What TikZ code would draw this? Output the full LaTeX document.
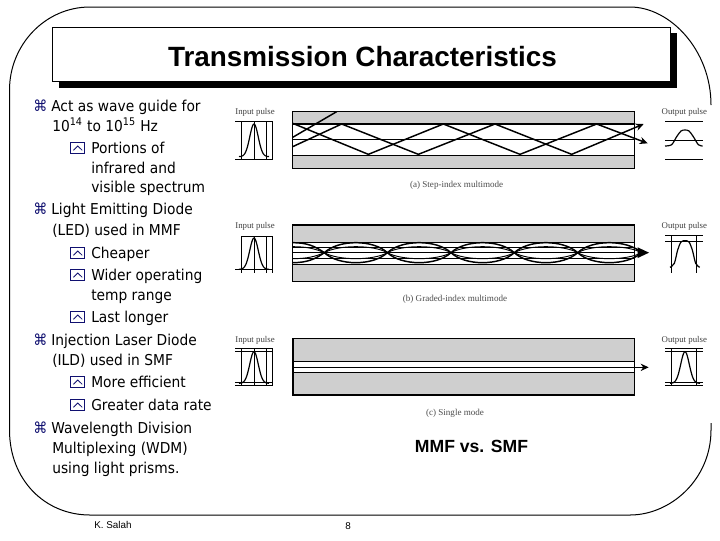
\documentclass[tikz,border=0pt]{standalone}
\usepackage{fontspec}
\setmainfont{DejaVu Sans}[FakeStretch=0.92]
\newfontfamily\titlefont{Liberation Sans}
\newfontfamily\capfont{Liberation Serif}
\usetikzlibrary{arrows.meta}
\definecolor{bulletblue}{HTML}{101070}
\definecolor{clad}{HTML}{CFCFCF}
\tikzset{
  x=0.75pt,y=-0.75pt,
  frameline/.style={draw=black,line width=0.75pt},
  lone/.style={anchor=base west,inner sep=0pt,font=\fontsize{11.25pt}{12pt}\selectfont},
  ltwo/.style={lone},
  kbul/.style={anchor=base west,inner sep=0pt,text=bulletblue,font=\fontsize{11.5pt}{12pt}\selectfont},
  ybul/.style={draw=bulletblue,line width=0.6pt},
  panel/.style={x=0.25pt,y=-0.25pt},
  plabel/.style={inner sep=0pt,text=black!75,font=\capfont\fontsize{6.6pt}{8pt}\selectfont},
  pcap/.style={inner sep=0pt,text=black!70,font=\capfont\fontsize{6.8pt}{8pt}\selectfont},
  fibre/.style={draw=black,line width=1.1pt},
  core/.style={fill=white,draw=none},
  thickl/.style={line width=1.2pt},
  thinl/.style={line width=0.7pt},
  grid/.style={line width=0.5pt},
  bell/.style={line width=0.9pt},
  rayline/.style={line width=1.1pt},
  raytip/.style={-{Stealth[length=6pt,width=5.5pt]}},
  footn/.style={inner sep=0pt,font=\titlefont\fontsize{7.4pt}{8pt}\selectfont}
}
\newcommand{\ybox}[2]{%
  \draw[ybul] (#1,#2-11) rectangle (#1+14,#2);
  \draw[ybul] (#1+2.7,#2-2.7) -- (#1+7,#2-7) -- (#1+11.5,#2-2.7);}
\newcommand{\gaussc}[4]{% centre, top, base, sigma (panel units)
  \draw[bell,smooth] plot[domain=-45:45,samples=41] ({#1+\x},{#3-(#3-#2)*exp(-(\x*\x)/(#4*#4))});}
\newcommand{\lenses}[2]{% control offset, width
  \draw[line width=#2] (203,{128-0.75*#1}) .. controls (245,{128-0.75*#1}) and (270,{128-0.5*#1}) .. (298,128)
    .. controls (340,{128+#1}) and (445,{128+#1}) .. (487,128)
    .. controls (530,{128-#1}) and (635,{128-#1}) .. (678,128)
    .. controls (720,{128+#1}) and (825,{128+#1}) .. (868,128)
    .. controls (910,{128-#1}) and (1015,{128-#1}) .. (1058,128)
    .. controls (1100,{128+#1}) and (1205,{128+#1}) .. (1250,128);}
\begin{document}
\begin{tikzpicture}
\useasboundingbox (0,0) rectangle (720,540);
% slide frame
\draw[frameline] (711,423) -- (711,430) .. controls (711,480) and (670,515) .. (630,515)
  -- (90,515) .. controls (45,515) and (9.5,480) .. (9.5,430)
  -- (9.5,90) .. controls (9.5,45) and (45,7) .. (90,7)
  -- (630,7) .. controls (670,7) and (711,50) .. (711,105);
% title
\fill (59,33) rectangle (677,88);
\node[draw=black,fill=white,line width=0.75pt,minimum width=463pt,minimum height=40.5pt,inner sep=0pt] (titlebox) at (361.5,54) {};
\node[inner sep=0pt,font=\titlefont\bfseries\fontsize{20.9pt}{24pt}\selectfont] (title) at (362.5,57) {Transmission Characteristics};
% bullets
\node[kbul] (k1) at (33,111.5) {⌘};
\node[kbul] (k2) at (33,214) {⌘};
\node[kbul] (k3) at (33,345) {⌘};
\node[kbul] (k4) at (33,433) {⌘};
\ybox{70.7}{153}\ybox{70.7}{258}\ybox{70.7}{280}\ybox{70.7}{322}\ybox{70.7}{387}\ybox{70.7}{410}
% text
\node[lone] (t1) at (51,111.5) {Act as wave guide for};
\node[lone] (t2) at (52,131) {10\textsuperscript{14} to 10\textsuperscript{15} Hz};
\node[ltwo] (t3) at (91,153) {Portions of};
\node[ltwo] (t4) at (91,173) {infrared and};
\node[ltwo] (t5) at (91,192) {visible spectrum};
\node[lone] (t6) at (51,214) {Light Emitting Diode};
\node[lone] (t7) at (52,235) {(LED) used in MMF};
\node[ltwo] (t8) at (91,258) {Cheaper};
\node[ltwo] (t9) at (91,280) {Wider operating};
\node[ltwo] (t10) at (91,300) {temp range};
\node[ltwo] (t11) at (91,322) {Last longer};
\node[lone] (t12) at (51,345) {Injection Laser Diode};
\node[lone] (t13) at (52,365) {(ILD) used in SMF};
\node[ltwo] (t14) at (91,387) {More efficient};
\node[ltwo] (t15) at (91,410) {Greater data rate};
\node[lone] (t16) at (51,433) {Wavelength Division};
\node[lone] (t17) at (52,453) {Multiplexing (WDM)};
\node[lone] (t18) at (52,473) {using light prisms.};
\node[inner sep=0pt,font=\titlefont\bfseries\fontsize{13.2pt}{15pt}\selectfont] (cmp) at (471.5,446.5) {MMF vs. SMF};
\node[footn] (author) at (113,525) {K. Salah};
\node[footn] (page) at (348,526.5) {8};
% panel a
\begin{scope}[shift={(225,100)},panel]
\fill[clad] (203,35) rectangle (1228,205);
\fill[core] (203,72) rectangle (1228,166);
\draw[fibre] (203,35) rectangle (1228,205);
\draw[thickl] (203,72) -- (1228,72);
\draw[thickl] (203,119) -- (1228,119);
\draw[thinl] (203,166) -- (1228,166);
\draw[rayline] (203,112) -- (335,35);
\draw[rayline,raytip] (203,70) -- (430,163) -- (655,72) -- (885,163) -- (1115,72) -- (1268,130);
\draw[rayline,raytip] (203,140) -- (350,72) -- (580,163) -- (810,72) -- (1040,163) -- (1256,72);
\node[plabel] (ia) at (90,38) {Input pulse};
\node[plabel] (oa) at (1378,38) {Output pulse};
\node[pcap] (ca) at (695,257) {(a) Step-index multimode};
\draw[grid] (30,65) -- (143,65) (30,178) -- (143,178) (48,65) -- (48,178) (87,65) -- (87,178) (125,65) -- (125,178) (143,65) -- (143,178);
\gaussc{87}{72}{170}{18}
\draw[grid] (1320,65) -- (1433,65) (1320,122) -- (1433,122) (1320,178) -- (1433,178);
\draw[bell] plot[smooth] coordinates {(1320,138) (1340,134) (1355,110) (1368,93) (1380,90) (1392,93) (1405,110) (1420,134) (1433,138)};
\end{scope}
% panel b
\begin{scope}[shift={(225,210)},panel]
\fill[clad] (203,45) rectangle (1228,215);
\fill[core] (203,97) rectangle (1228,162);
\draw[fibre] (203,45) rectangle (1228,215);
\foreach \yy in {97,113,128,145,162} \draw[thinl] (203,\yy) -- (1228,\yy);
\lenses{40}{1.1pt}
\lenses{-40}{1.1pt}
\lenses{24}{0.7pt}
\lenses{-24}{0.7pt}
\fill (1272,128) -- (1238,112) -- (1238,144) -- cycle;
\node[plabel] (ib) at (90,48) {Input pulse};
\node[plabel] (ob) at (1378,48) {Output pulse};
\node[pcap] (cb) at (690,267) {(b) Graded-index multimode};
\draw[grid] (48,78) -- (143,78) (30,178) -- (143,178) (48,78) -- (48,188) (87,78) -- (87,188) (125,78) -- (125,188) (143,78) -- (143,188);
\gaussc{87}{84}{178}{18}
\draw[grid] (1320,75) -- (1433,75) (1320,93) -- (1433,93) (1338,75) -- (1338,188) (1415,75) -- (1415,188);
\draw[bell] plot[smooth] coordinates {(1335,172) (1348,160) (1358,120) (1368,96) (1380,92) (1392,96) (1402,120) (1412,160) (1424,172)};
\end{scope}
% panel c
\begin{scope}[shift={(225,325)},panel]
\fill[clad] (203,40) rectangle (1228,210);
\fill[core] (203,110) rectangle (1228,142);
\draw[fibre] (203,40) rectangle (1228,210);
\draw[line width=1.4pt] (203,40) -- (203,210);
\draw[thickl] (203,110) -- (1228,110);
\draw[thinl] (203,127) -- (1228,127);
\draw[thinl] (203,142) -- (1228,142);
\draw[thinl,raytip] (1228,127) -- (1271,127);
\node[plabel] (ic) at (90,45) {Input pulse};
\node[plabel] (oc) at (1378,45) {Output pulse};
\node[pcap] (cc) at (690,265) {(c) Single mode};
\draw[grid] (30,70) -- (143,70) (30,80) -- (143,80) (30,172) -- (143,172) (30,182) -- (143,182) (48,70) -- (48,182) (87,70) -- (87,182) (125,70) -- (125,182) (143,70) -- (143,182);
\gaussc{87}{80}{175}{18}
\draw[grid] (1320,70) -- (1433,70) (1320,80) -- (1433,80) (1320,172) -- (1433,172) (1320,182) -- (1433,182) (1338,70) -- (1338,182) (1415,70) -- (1415,182);
\gaussc{1380}{80}{175}{18}
\end{scope}
\end{tikzpicture}
\end{document}
